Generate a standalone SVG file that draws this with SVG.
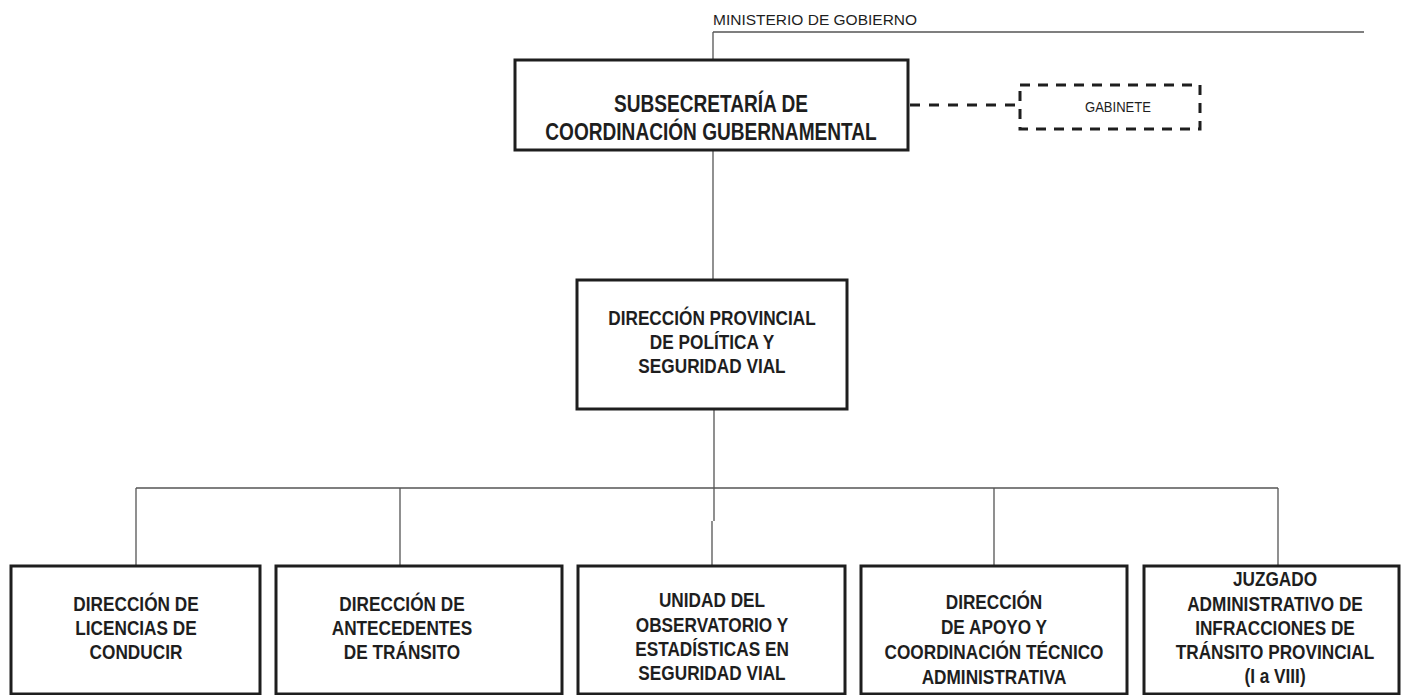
<svg xmlns="http://www.w3.org/2000/svg" width="1401" height="695" viewBox="0 0 1401 695">
  <style>
    .box { fill: #ffffff; stroke: #1e1e1e; stroke-width: 3; }
    .dbox { fill: #ffffff; stroke: #1e1e1e; stroke-width: 3; stroke-dasharray: 10 8; }
    .ln { fill: none; stroke: #555555; stroke-width: 1.3; }
    .dln { fill: none; stroke: #1e1e1e; stroke-width: 3; stroke-dasharray: 10 9; }
    .t { font-family: "Liberation Sans", Arial, sans-serif; font-weight: bold; fill: #1e1e1e; text-anchor: middle; }
    .t1 { font-size: 23px; }
    .t2 { font-size: 20.5px; }
    .s { font-family: "Liberation Sans", Arial, sans-serif; font-weight: normal; fill: #1e1e1e; }
  </style>
  <rect width="1401" height="695" fill="#ffffff"/>

  <g id="connectors">
    <path class="ln" d="M713 32 H1364 M713 32 V60"/>
    <path class="dln" d="M910 105 H1020"/>
    <path class="ln" d="M713 150 V280"/>
    <path class="ln" d="M714 409 V521 M712 521 V566"/>
    <path class="ln" d="M136 488 H1278"/>
    <path class="ln" d="M136 488 V566 M400 488 V566 M994 488 V566 M1278 488 V566"/>
  </g>

  <g id="ministerio">
    <text class="s" x="713" y="25" font-size="15.5">MINISTERIO DE GOBIERNO</text>
  </g>

  <g id="subsecretaria">
    <rect class="box" x="515" y="60" width="393" height="90"/>
    <g transform="translate(711 0) scale(0.83 1)">
      <text class="t t1" x="0" y="112">SUBSECRETARÍA DE</text>
      <text class="t t1" x="0" y="140">COORDINACIÓN GUBERNAMENTAL</text>
    </g>
  </g>

  <g id="gabinete">
    <rect class="dbox" x="1020" y="85" width="180" height="44"/>
    <g transform="translate(1118 0) scale(0.9 1)">
      <text class="s" x="0" y="112" font-size="14.5" text-anchor="middle">GABINETE</text>
    </g>
  </g>

  <g id="direccion-provincial">
    <rect class="box" x="577" y="280" width="270" height="129"/>
    <g transform="translate(712 0) scale(0.84 1)">
      <text class="t t2" x="0" y="325">DIRECCIÓN PROVINCIAL</text>
      <text class="t t2" x="0" y="349">DE POLÍTICA Y</text>
      <text class="t t2" x="0" y="373">SEGURIDAD VIAL</text>
    </g>
  </g>

  <g id="licencias">
    <rect class="box" x="11" y="566" width="249" height="128"/>
    <g transform="translate(136 0) scale(0.84 1)">
      <text class="t t2" x="0" y="611">DIRECCIÓN DE</text>
      <text class="t t2" x="0" y="635">LICENCIAS DE</text>
      <text class="t t2" x="0" y="659">CONDUCIR</text>
    </g>
  </g>

  <g id="antecedentes">
    <rect class="box" x="276" y="566" width="286" height="128"/>
    <g transform="translate(402 0) scale(0.84 1)">
      <text class="t t2" x="0" y="611">DIRECCIÓN DE</text>
      <text class="t t2" x="0" y="635">ANTECEDENTES</text>
      <text class="t t2" x="0" y="659">DE TRÁNSITO</text>
    </g>
  </g>

  <g id="observatorio">
    <rect class="box" x="578" y="566" width="267" height="128"/>
    <g transform="translate(712 0) scale(0.84 1)">
      <text class="t t2" x="0" y="607">UNIDAD DEL</text>
      <text class="t t2" x="0" y="632">OBSERVATORIO Y</text>
      <text class="t t2" x="0" y="656">ESTADÍSTICAS EN</text>
      <text class="t t2" x="0" y="680">SEGURIDAD VIAL</text>
    </g>
  </g>

  <g id="apoyo">
    <rect class="box" x="861" y="566" width="266" height="128"/>
    <g transform="translate(994 0) scale(0.84 1)">
      <text class="t t2" x="0" y="609">DIRECCIÓN</text>
      <text class="t t2" x="0" y="634">DE APOYO Y</text>
      <text class="t t2" x="0" y="659">COORDINACIÓN TÉCNICO</text>
      <text class="t t2" x="0" y="684">ADMINISTRATIVA</text>
    </g>
  </g>

  <g id="juzgado">
    <rect class="box" x="1144" y="566" width="255" height="128"/>
    <g transform="translate(1275 0) scale(0.84 1)">
      <text class="t t2" x="0" y="586">JUZGADO</text>
      <text class="t t2" x="0" y="611">ADMINISTRATIVO DE</text>
      <text class="t t2" x="0" y="635">INFRACCIONES DE</text>
      <text class="t t2" x="0" y="659">TRÁNSITO PROVINCIAL</text>
      <text class="t t2" x="0" y="683">(I a VIII)</text>
    </g>
  </g>
</svg>
